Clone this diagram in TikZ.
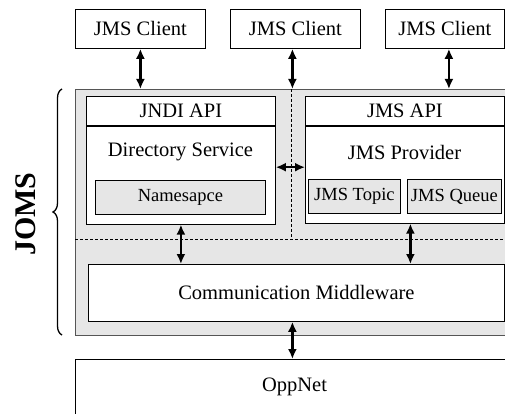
\documentclass[tikz,border=0pt]{standalone}
\usepackage{fontspec}
\setmainfont{Liberation Serif}
\usepackage{tikz}
\usetikzlibrary{arrows.meta,decorations.pathreplacing}
\definecolor{panel}{HTML}{E6E6E6}
\definecolor{rim}{HTML}{555555}

\begin{document}
\begin{tikzpicture}[x=1pt,y=-1pt,font=\fontsize{20.5}{24}\selectfont,
        blk/.style={draw, line width=0.8pt, inner sep=0pt, anchor=north west, fill=white},
        gblk/.style={blk, fill=panel, font=\fontsize{18.5}{22}\selectfont},
        dbl/.style={{Latex[length=10pt,width=9pt]}-{Latex[length=10pt,width=9pt]}, line width=2.2pt},
        sep/.style={line width=0.6pt, dash pattern=on 3pt off 2pt}]
        \useasboundingbox (0,0) rectangle (505,414);
        \clip (0,0) rectangle (505,414);
        % clients
        \node[blk, minimum width=130pt, minimum height=39pt] (client1) at (75,9) {JMS Client};
        \node[blk, minimum width=130pt, minimum height=39pt] (client2) at (230,9) {JMS Client};
        \node[blk, minimum width=119pt, minimum height=39pt] (client3) at (385,9) {JMS Client};
        % joms frame
        \node[blk, draw=rim, fill=panel, minimum width=440pt, minimum height=246pt] (joms) at (75,89) {};
        \coordinate (cross) at (291,239);
        \draw[sep] (cross |- joms.north) -- (cross);
        \draw[sep] (cross -| joms.west) -- (cross -| joms.east);
        \node[blk, minimum width=189pt, minimum height=29pt] (jndi) at (86,96) {JNDI API};
        \node[blk, minimum width=189pt, minimum height=98pt] (dirsvc) at (jndi.south west) {};
        \node (dirtxt) at (180.5,152) {Directory Service};
        \node[gblk, minimum width=170pt, minimum height=34pt] (names) at (95,180) {Namesapce};
        \node[blk, minimum width=199pt, minimum height=29pt] (jmsapi) at (305,96) {JMS API};
        \node[blk, minimum width=199pt, minimum height=97pt] (provider) at (jmsapi.south west) {};
        \node (provtxt) at (404.5,152) {JMS Provider};
        \node[gblk, minimum width=92pt, minimum height=34pt] (topic) at (308,179) {JMS Topic};
        \node[gblk, minimum width=94pt, minimum height=34pt] (queue) at (407,179) {JMS Queue};
        \node[blk, minimum width=416pt, minimum height=57pt] (comm) at (88,264) {Communication Middleware};
        \node[blk, minimum width=440pt, minimum height=70pt] (oppnet) at (75,359) {};
        \node (opptxt) at (294.5,387) {OppNet};
        % links
        \draw[dbl] (client1.south) -- (client1.south |- joms.north);
        \draw[dbl] ([xshift=-3pt]client2.south) -- ([xshift=-3pt]client2.south |- joms.north);
        \draw[dbl] ([xshift=4pt]client3.south) -- ([xshift=4pt]client3.south |- joms.north);
        \draw[dbl] ([yshift=8pt]dirsvc.east) -- ([yshift=8pt]dirsvc.east -| provider.west);
        \draw[dbl] (dirsvc.south) -- (dirsvc.south |- comm.north);
        \draw[dbl] ([xshift=5.5pt]provider.south) -- ([xshift=5.5pt]provider.south |- comm.north);
        \draw[dbl] ([xshift=-4pt]comm.south) -- ([xshift=-4pt]comm.south |- oppnet.north);
        % brace
        \coordinate (bb) at (62,335);
        \coordinate (bt) at (62,89);
        \draw[line width=1.3pt, decorate, decoration={brace, amplitude=9pt}] (bb) -- (bt);
        \node[rotate=90, font=\bfseries\fontsize{30}{36}\selectfont] (jomslbl) at (26,214) {JOMS};
\end{tikzpicture}
\end{document}
